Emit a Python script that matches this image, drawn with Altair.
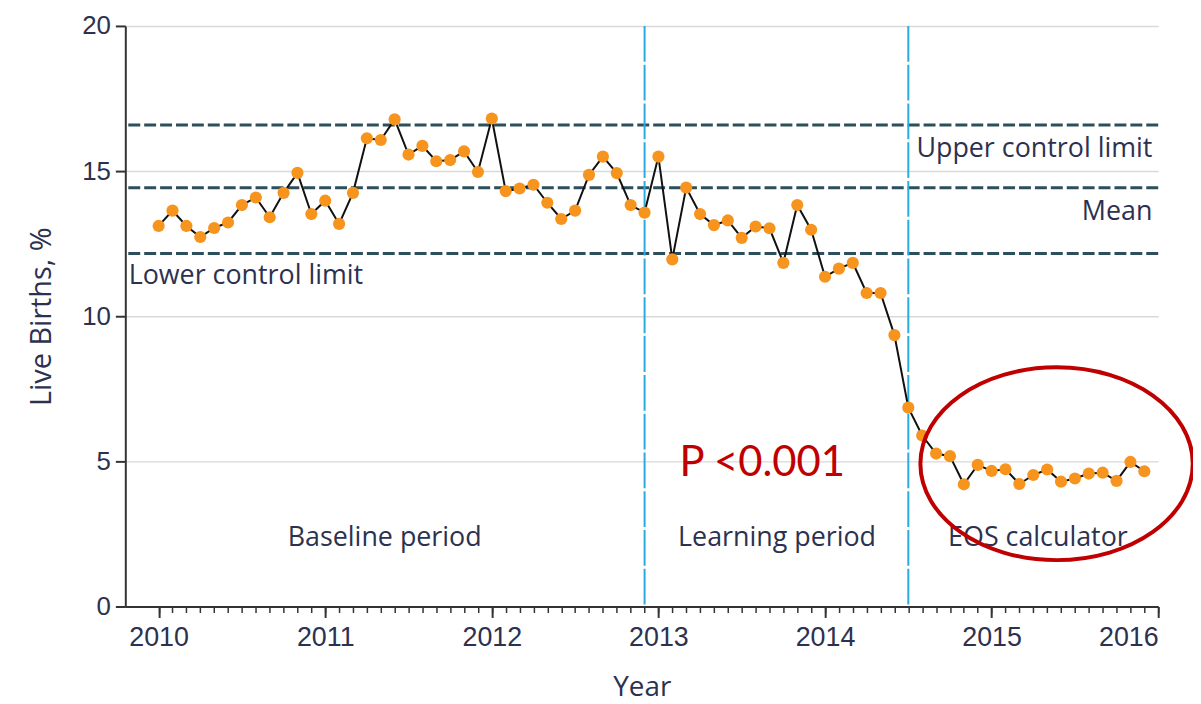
import altair as alt
import pandas as pd

# ---------------- data ----------------
years = [2010, 2011, 2012, 2013, 2014, 2015]
months = list(range(1, 13))
rates = [
    13.11, 13.64, 13.11, 12.73, 13.04, 13.23, 13.83, 14.09, 13.41, 14.25, 14.94, 13.52,
    13.98, 13.18, 14.25, 16.13, 16.07, 16.78, 15.57, 15.87, 15.34, 15.38, 15.68, 14.97,
    16.81, 14.31, 14.40, 14.53, 13.91, 13.35, 13.64, 14.87, 15.50, 14.93, 13.83, 13.57,
    15.50, 11.96, 14.43, 13.52, 13.14, 13.30, 12.70, 13.09, 13.03, 11.84, 13.83, 12.98,
    11.36, 11.64, 11.84, 10.80, 10.80, 9.35, 6.85, 5.89, 5.27, 5.18, 4.21, 4.88,
    4.67, 4.73, 4.22, 4.53, 4.72, 4.30, 4.41, 4.58, 4.61, 4.33, 4.98, 4.66,
]
control_names = ["Upper control limit", "Mean", "Lower control limit"]
control_values = [16.59, 14.43, 12.16]
phase_breaks = [2012.917, 2014.5]
year_ticks = [2010, 2011, 2012, 2013, 2014, 2015, 2016]
y_ticks = [0, 5, 10, 15, 20]

# annotation text (label, x, y, align)
limit_labels = ["Upper control limit", "Mean", "Lower control limit"]
limit_x = [2015.965, 2015.965, 2009.82]
limit_y = [15.76, 13.58, 11.40]
limit_align = ["right", "right", "left"]
period_labels = ["Baseline period", "Learning period", "EOS calculator"]
period_x = [2011.357, 2013.712, 2015.278]
period_y = [2.35, 2.35, 2.35]
p_label = ["P <0.001"]
p_x = [2013.126]
p_y = [4.94]
ellipse_x = [2015.39]
ellipse_y = [4.92]

# ---------------- tables ----------------
dec = [y + (m - 1) / 12 for y in years for m in months]
df = pd.DataFrame({"t": dec, "rate": rates})
minor_ticks = [y + (m - 1) / 12 for y in years for m in months] + [2016]
ctrl = pd.DataFrame({"name": control_names, "value": control_values})
phases = pd.DataFrame({"t": phase_breaks})
lim_df = pd.DataFrame({"label": limit_labels, "t": limit_x, "v": limit_y, "align": limit_align})
per_df = pd.DataFrame({"label": period_labels, "t": period_x, "v": period_y})
p_df = pd.DataFrame({"label": p_label, "t": p_x, "v": p_y})
ell_df = pd.DataFrame({"t": ellipse_x, "v": ellipse_y})

FONT = "Open Sans"
TICKFONT = "Liberation Sans"
TXT = "#2c3150"
AX = "#333333"

xscale = alt.Scale(domain=[2009.8, 2016.0], nice=False, zero=False)
yscale = alt.Scale(domain=[0, 20], nice=False)

x_none = alt.X("t:Q", scale=xscale, axis=None)
y_none = alt.Y("v:Q", scale=yscale, axis=None)

# y-axis carrier: control limit dashed lines
ctrl_rules = alt.Chart(ctrl).mark_rule(
    color="#2d4f5c", strokeWidth=3, strokeDash=[12, 4]
).encode(
    y=alt.Y(
        "value:Q", scale=yscale,
        axis=alt.Axis(
            orient="left", values=y_ticks, title="Live Births, %", grid=True,
            gridColor="#d9d9d9", gridWidth=1.5, domainColor=AX, domainWidth=2,
            tickColor=AX, tickWidth=2, tickSize=10, labelFontSize=26, labelColor=TXT,
            labelPadding=5, titleFontSize=29, titleFontWeight="normal",
            titleColor=TXT, titlePadding=25, labelFont=TICKFONT, titleFont=FONT,
        ),
    )
)

phase_rules = alt.Chart(phases).mark_rule(
    color="#29abe2", strokeWidth=2, strokeDash=[36, 3]
).encode(x=x_none)

line = alt.Chart(df).mark_line(color="#111111", strokeWidth=2).encode(
    x=alt.X(
        "t:Q", scale=xscale,
        axis=alt.Axis(
            orient="bottom", values=year_ticks, format="d", title="Year", grid=False,
            domainColor=AX, domainWidth=2, tickColor=AX, tickWidth=2, tickSize=11,
            labelFontSize=27, labelColor=TXT, labelPadding=7, titleFontSize=28,
            titleFontWeight="normal", titleColor=TXT, titlePadding=24,
            labelFont=TICKFONT, titleFont=FONT,
        ),
    ),
    y=alt.Y("rate:Q", scale=yscale, axis=None),
)

points = alt.Chart(df).mark_circle(size=150, color="#f7941d", opacity=1).encode(
    x=alt.X(
        "t:Q", scale=xscale,
        axis=alt.Axis(
            orient="bottom", values=minor_ticks, labels=False, title=None, grid=False,
            domain=False, tickColor=AX, tickWidth=1.5, tickSize=6,
        ),
    ),
    y=alt.Y("rate:Q", scale=yscale, axis=None),
)

lim_right = alt.Chart(lim_df[lim_df["align"] == "right"]).mark_text(
    align="right", baseline="middle", fontSize=27, font=FONT, color=TXT
).encode(x=x_none, y=y_none, text="label:N")

lim_left = alt.Chart(lim_df[lim_df["align"] == "left"]).mark_text(
    align="left", baseline="middle", fontSize=27, font=FONT, color=TXT
).encode(x=x_none, y=y_none, text="label:N")

per_text = alt.Chart(per_df).mark_text(
    align="center", baseline="middle", fontSize=27, font=FONT, color=TXT
).encode(x=x_none, y=y_none, text="label:N")

p_text = alt.Chart(p_df).mark_text(
    align="left", baseline="middle", fontSize=42, font="Lato", color="#c00000"
).encode(x=x_none, y=y_none, text="label:N")

ellipse_path = (
    "M -1 0 C -1 -0.391 -0.552 -0.708 0 -0.708 C 0.552 -0.708 1 -0.391 1 0 "
    "C 1 0.391 0.552 0.708 0 0.708 C -0.552 0.708 -1 0.391 -1 0 Z"
)
ellipse = alt.Chart(ell_df).mark_point(
    shape=ellipse_path, size=75076, filled=False, stroke="#c00000",
    strokeWidth=4, opacity=1,
).encode(x=x_none, y=y_none)

chart = (
    alt.layer(ctrl_rules, phase_rules, line, points, lim_right, lim_left,
              per_text, p_text, ellipse)
    .resolve_axis(x="independent", y="independent")
    .properties(
        width=1039, height=584,
        autosize=alt.AutoSizeParams(type="none"),
        padding={"left": 118, "top": 16, "right": 35, "bottom": 96},
    )
    .configure(font=FONT)
    .configure_view(stroke=None)
)

chart.save("out.html", embed_options={"renderer": "svg", "actions": False})
